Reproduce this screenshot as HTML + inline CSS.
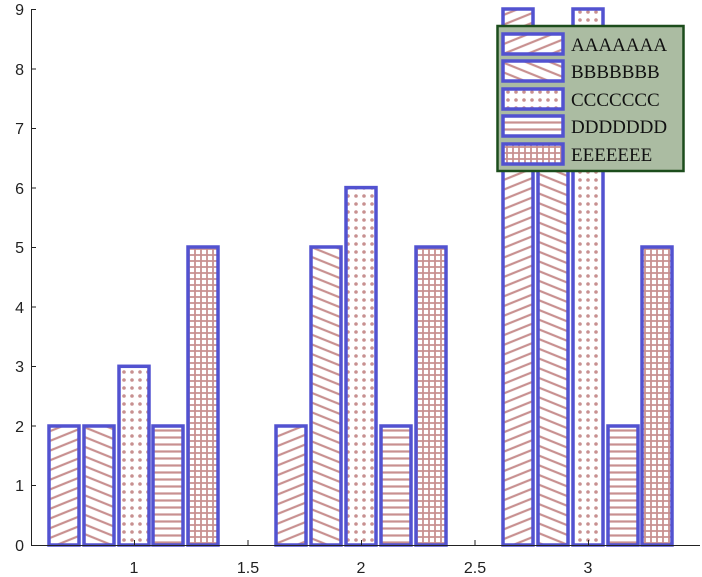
<!DOCTYPE html>
<html><head><style>body{margin:0;background:#fff}svg{display:block}</style></head><body>
<svg width="702" height="577" xmlns="http://www.w3.org/2000/svg" font-family="Liberation Sans, sans-serif">
<defs>
<pattern id="pA" patternUnits="userSpaceOnUse" width="10" height="9" patternTransform="rotate(-22)"><rect x="-1" y="-1" width="12" height="11" fill="#fff"/><path d="M-1,4.5 H11" stroke="#c89090" stroke-width="2.2"/></pattern>
<pattern id="pB" patternUnits="userSpaceOnUse" width="10" height="9" patternTransform="rotate(22)"><rect x="-1" y="-1" width="12" height="11" fill="#fff"/><path d="M-1,4.5 H11" stroke="#c89090" stroke-width="2.2"/></pattern>
<pattern id="pC" patternUnits="userSpaceOnUse" width="8" height="8"><rect width="8" height="8" fill="#fff"/><circle cx="4" cy="4" r="1.8" fill="#c89090"/></pattern>
<pattern id="pD" patternUnits="userSpaceOnUse" width="8" height="7"><rect width="8" height="7" fill="#fff"/><path d="M-1,3.5 H9" stroke="#c89090" stroke-width="2.2"/></pattern>
<pattern id="pE" patternUnits="userSpaceOnUse" width="6" height="6"><rect width="6" height="6" fill="#fff"/><path d="M-1,3 H7 M3,-1 V7" stroke="#c89090" stroke-width="1.8"/></pattern>
</defs>
<g stroke="#5252d0" stroke-width="3.5">
<rect x="49" y="426" width="30" height="119" fill="url(#pA)"/>
<rect x="84" y="426" width="30" height="119" fill="url(#pB)"/>
<rect x="119" y="366.3" width="30" height="178.7" fill="url(#pC)"/>
<rect x="153" y="426" width="30" height="119" fill="url(#pD)"/>
<rect x="188" y="247" width="30" height="298" fill="url(#pE)"/>
<rect x="276" y="426" width="30" height="119" fill="url(#pA)"/>
<rect x="311" y="247" width="30" height="298" fill="url(#pB)"/>
<rect x="346" y="187.6" width="30" height="357.4" fill="url(#pC)"/>
<rect x="381" y="426" width="30" height="119" fill="url(#pD)"/>
<rect x="416" y="247" width="30" height="298" fill="url(#pE)"/>
<rect x="503" y="9" width="30" height="536" fill="url(#pA)"/>
<rect x="538" y="69" width="30" height="476" fill="url(#pB)"/>
<rect x="573" y="9" width="30" height="536" fill="url(#pC)"/>
<rect x="608" y="426" width="30" height="119" fill="url(#pD)"/>
<rect x="642" y="247" width="30" height="298" fill="url(#pE)"/>
</g>
<g stroke="#222" stroke-width="1" fill="none">
<path d="M31.5,9 V545.5 H700"/>
<path d="M31,9.5 h5 M31,69 h5 M31,128.5 h5 M31,188 h5 M31,247.5 h5 M31,307 h5 M31,366.5 h5 M31,426 h5 M31,485.5 h5"/>
<path d="M134.5,545 v-5 M248,545 v-5 M361.5,545 v-5 M475,545 v-5 M588.5,545 v-5"/>
</g>
<g font-size="16" fill="#222" text-anchor="end">
<text x="24" y="15">9</text><text x="24" y="75">8</text><text x="24" y="134">7</text><text x="24" y="194">6</text><text x="24" y="253">5</text><text x="24" y="313">4</text><text x="24" y="372">3</text><text x="24" y="432">2</text><text x="24" y="491">1</text><text x="24" y="551">0</text>
</g>
<g font-size="16" fill="#222" text-anchor="middle">
<text x="134" y="573">1</text><text x="248" y="573">1.5</text><text x="361" y="573">2</text><text x="475" y="573">2.5</text><text x="588" y="573">3</text>
</g>
<rect x="497.5" y="26" width="186" height="145" fill="#abbca2" stroke="#1c4d1c" stroke-width="2.5"/>
<g stroke="#5252d0" stroke-width="3.5">
<rect x="503" y="34" width="60" height="20" fill="url(#pA)"/>
<rect x="503" y="61" width="60" height="20" fill="url(#pB)"/>
<rect x="503" y="89" width="60" height="20" fill="url(#pC)"/>
<rect x="503" y="116" width="60" height="20" fill="url(#pD)"/>
<rect x="503" y="144" width="60" height="20" fill="url(#pE)"/>
</g>
<g font-family="Liberation Serif, serif" font-size="19" fill="#111">
<text x="571" y="51">AAAAAAA</text><text x="571" y="78">BBBBBBB</text><text x="571" y="106">CCCCCCC</text><text x="571" y="133">DDDDDDD</text><text x="571" y="161">EEEEEEE</text>
</g>
</svg>
</body></html>
